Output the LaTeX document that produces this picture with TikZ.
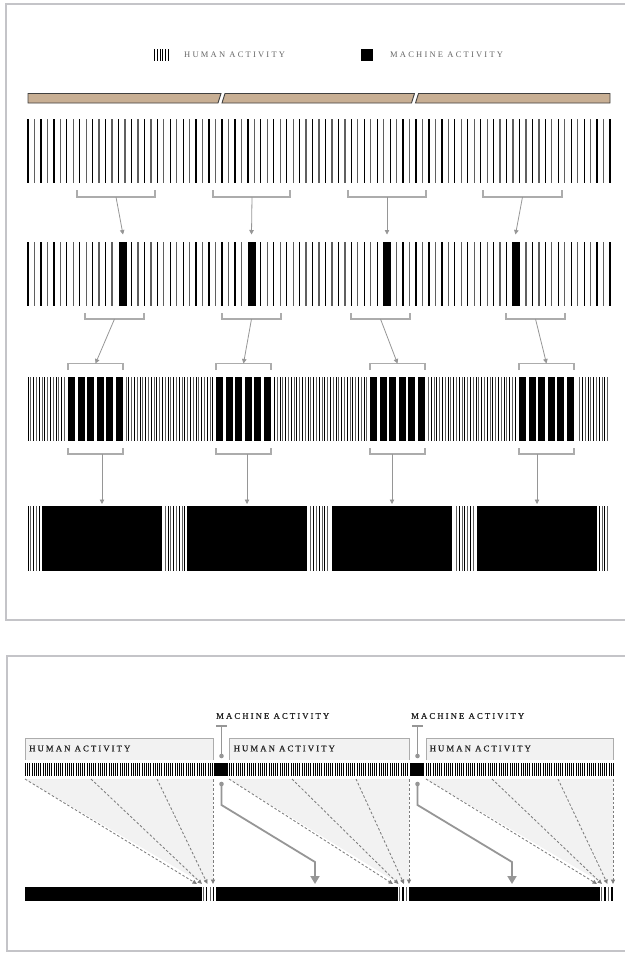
\documentclass[tikz,border=0pt]{standalone}
\usepackage{fontspec}
\setmainfont{Liberation Serif}
\newfontfamily\lspfont[LetterSpace=26]{Liberation Serif}
\newfontfamily\lspboldfont[LetterSpace=24,FakeBold=0.6]{Liberation Serif}
\usetikzlibrary{arrows.meta}
\definecolor{panelc}{RGB}{196,196,200}
\definecolor{tanc}{RGB}{200,175,148}
\definecolor{brk}{RGB}{172,172,172}
\definecolor{arrc}{RGB}{150,150,150}
\definecolor{darrc}{RGB}{125,125,125}
\definecolor{fillc}{RGB}{242,242,242}
\definecolor{stripeg}{RGB}{95,95,95}
\definecolor{legc}{RGB}{100,100,100}
\definecolor{labc}{RGB}{35,35,35}
\tikzset{
  panel/.style={draw=panelc, line width=2pt},
  tanbar/.style={draw=black!75, fill=tanc, line width=0.9pt},
  stripeA/.style={draw=black, line width=1.3pt},
  stripeB/.style={draw=stripeg, line width=1.3pt},
  fineA/.style={draw=black, line width=0.95pt},
  fineB/.style={draw=stripeg, line width=0.95pt},
  brack/.style={draw=brk, line width=1.1pt},
  garrow/.style={draw=arrc, line width=0.8pt, -{Triangle[length=4.5pt,width=4.5pt]}},
  legtext/.style={text=legc, inner sep=0pt, font=\lspfont\fontsize{8.5}{10}\selectfont},
  labtext/.style={text=labc, inner sep=0pt, font=\lspboldfont\fontsize{8.7}{10}\selectfont},
  hbox/.style={draw=brk, line width=0.9pt},
  mline/.style={draw=arrc, line width=1.8pt},
  marrow/.style={draw=arrc, line width=1.8pt, -{Triangle[length=8pt,width=9pt]}},
  darrow/.style={draw=darrc, line width=0.85pt, dash pattern=on 2.5pt off 2pt, -{Triangle[length=4.5pt,width=4pt]}},
  blk/.style={fill=black, inner sep=0pt, draw=none}
}
\begin{document}
\begin{tikzpicture}[x=1pt,y=-1pt]
\useasboundingbox (0,0) rectangle (624,953);
% panels
\draw[panel] (6,4) rectangle (640,620);
\draw[panel] (7,656) rectangle (640,951);

% ---------------- legend
\foreach \xx in {154.5,157.3,...,169} \draw[line width=0.9pt] (\xx,49) -- (\xx,61);
\node[legtext, anchor=west] (lh) at (184,54.5) {HUMAN ACTIVITY};
\node[blk, minimum width=12.5pt, minimum height=12.5pt] (lm) at (366.75,54.75) {};
\node[legtext, anchor=west] (lmt) at (390,54.5) {MACHINE ACTIVITY};

% ---------------- tan bars
\draw[tanbar] (28,93.5) -- (221,93.5) -- (218,103) -- (28,103) -- cycle;
\draw[tanbar] (225,93.5) -- (414.5,93.5) -- (411.5,103) -- (222,103) -- cycle;
\draw[tanbar] (418.5,93.5) -- (610,93.5) -- (610,103) -- (415.5,103) -- cycle;

% ---------------- row 1
\foreach \k in {0,...,45} \draw[stripeA] ({28+\k*12.934},119) -- ++(0,64);
\foreach \k in {0,...,44} \draw[stripeB] ({34.467+\k*12.934},119) -- ++(0,64);

% ---------------- row 2
\foreach \k in {0,...,45} \draw[stripeA] ({28+\k*12.934},242) -- ++(0,64);
\foreach \k in {0,...,44} \draw[stripeB] ({34.467+\k*12.934},242) -- ++(0,64);
\foreach \a/\b in {119/127, 248/255.5, 383/391, 512/519.5} {
  \fill[white] ({\a-2.5},240) rectangle ({\b+2.5},308);
  \fill[black] (\a,242) rectangle (\b,306);
}

% ---------------- row 3
\foreach \k in {0,...,103} \draw[fineA] ({28+\k*5.6},377) -- ++(0,64);
\foreach \k in {0,...,103} \draw[fineB] ({30.8+\k*5.6},377) -- ++(0,64);
\foreach \g in {68,216,370,519} {
  \fill[white] ({\g-3},375) rectangle ({\g+58},443);
  \foreach \j in {0,...,5} \fill[black] ({\g+\j*9.5},377) rectangle ({\g+\j*9.5+7.4},441);
}

% ---------------- row 4
\foreach \k in {0,...,103} \draw[fineA] ({28+\k*5.6},506) -- ++(0,65);
\foreach \k in {0,...,103} \draw[fineB] ({30.8+\k*5.6},506) -- ++(0,65);
\foreach \a/\b in {42/162, 187/307, 332/452, 477/597} {
  \fill[white] ({\a-1.8},504) rectangle ({\b+1.6},573);
  \fill[black] (\a,506) rectangle (\b,571);
}

% ---------------- brackets and arrows: row 1 -> row 2
\foreach \i/\a/\b/\s/\t in {1/77/155/116/123, 2/213/290/252/251.5, 3/348/426/387/387, 4/483/562/522.5/515.5} {
  \draw[brack] (\a,190) -- (\a,197) -- (\b,197) -- (\b,190);
  \coordinate (pa\i) at (\s,197);
  \coordinate (qa\i) at (\t,234.5);
  \draw[garrow] (pa\i) -- (qa\i);
}
% row 2 -> row 3
\foreach \i/\a/\b/\s/\g in {1/85/144/114.5/68, 2/222/281/251.5/216, 3/351/410/380.5/370, 4/506/565/535.5/519} {
  \draw[brack] (\a,313) -- (\a,319) -- (\b,319) -- (\b,313);
  \draw[brack] (\g,370) -- (\g,363.5) -- ({\g+55},363.5) -- ({\g+55},370);
  \coordinate (pb\i) at (\s,319);
  \coordinate (qb\i) at ({\g+27.5},363.5);
  \draw[garrow] (pb\i) -- (qb\i);
}
% row 3 -> row 4
\foreach \i/\g/\c in {1/68/102, 2/216/247, 3/370/392, 4/519/537} {
  \draw[brack] (\g,448) -- (\g,454) -- ({\g+55},454) -- ({\g+55},448);
  \coordinate (pc\i) at (\c,454);
  \coordinate (qc\i) at (\c,504);
  \draw[garrow] (pc\i) -- (qc\i);
}

% ================= bottom panel
% human activity boxes
\foreach \i/\a/\b/\tx in {1/25/213/29, 2/229/409/233.5, 3/426/613/429.5} {
  \fill[fillc] (\a,738) rectangle (\b,760);
  \draw[hbox] (\a,760) -- (\a,738) -- (\b,738) -- (\b,760);
  \node[labtext, anchor=west] (hl\i) at (\tx,748.5) {HUMAN ACTIVITY};
}
% grey fans
\fill[fillc] (25,779) -- (213,779) -- (213,880) -- (197,880) -- cycle;
\fill[fillc] (229,779) -- (409,779) -- (409,880) -- (393,880) -- cycle;
\fill[fillc] (426,779) -- (613,779) -- (613,880) -- (597,880) -- cycle;

% stripe rows
\foreach \k in {0,...,85} \draw[line width=0.9pt] ({25.5+\k*2.2},763) -- ++(0,13);
\foreach \k in {0,...,81} \draw[line width=0.9pt] ({229.5+\k*2.2},763) -- ++(0,13);
\foreach \k in {0,...,85} \draw[line width=0.9pt] ({426.5+\k*2.2},763) -- ++(0,13);
\node[blk, minimum width=14pt, minimum height=13pt] (sq1) at (221,769.5) {};
\node[blk, minimum width=14pt, minimum height=13pt] (sq2) at (417,769.5) {};

% machine labels and T connectors
\foreach \i/\x/\lx in {1/221.5/216, 2/417.5/411} {
  \node[labtext, anchor=west] (ml\i) at (\lx,716) {MACHINE ACTIVITY};
  \coordinate (ta\i) at (\x,726);
  \coordinate (tb\i) at (\x,756);
  \draw[mline] ({\x-5.5},726) -- ({\x+5.5},726);
  \draw[mline] (ta\i) -- (tb\i);
  \fill[arrc] (tb\i) circle (2.3);
}

% dashed arrows
\foreach \s/\t in {25/197, 91/202, 157/207.5, 213/213,
                   229/393, 292/398.5, 356/404, 409/409,
                   426/597, 492/602, 558/607.5, 613/613} {
  \coordinate (ds) at (\s,779);
  \coordinate (dt) at (\t,884);
  \draw[darrow] (ds) -- (dt);
}

% machine arrows
\foreach \i/\x/\tx in {1/221.5/315, 2/417.5/512} {
  \coordinate (ma\i) at (\x,784);
  \coordinate (mb\i) at (\tx,884);
  \fill[arrc] (ma\i) circle (2.3);
  \draw[marrow] (ma\i) -- (\x,805) -- (\tx,862) -- (mb\i);
}

% result bars
\fill[black] (25,887) rectangle (202,901);
\fill[black] (216,887) rectangle (398,901);
\fill[black] (410,887) rectangle (600,901);
\foreach \xo in {203.2, 399.5, 601.5} {
  \draw[fineB, line width=1.1pt] (\xo,887) -- ++(0,14);
  \draw[fineA, line width=1.1pt] ({\xo+3.5},887) -- ++(0,14);
  \draw[fineB, line width=1.1pt] ({\xo+7},887) -- ++(0,14);
  \draw[fineA, line width=1.1pt] ({\xo+10.5},887) -- ++(0,14);
}
\end{tikzpicture}
\end{document}
